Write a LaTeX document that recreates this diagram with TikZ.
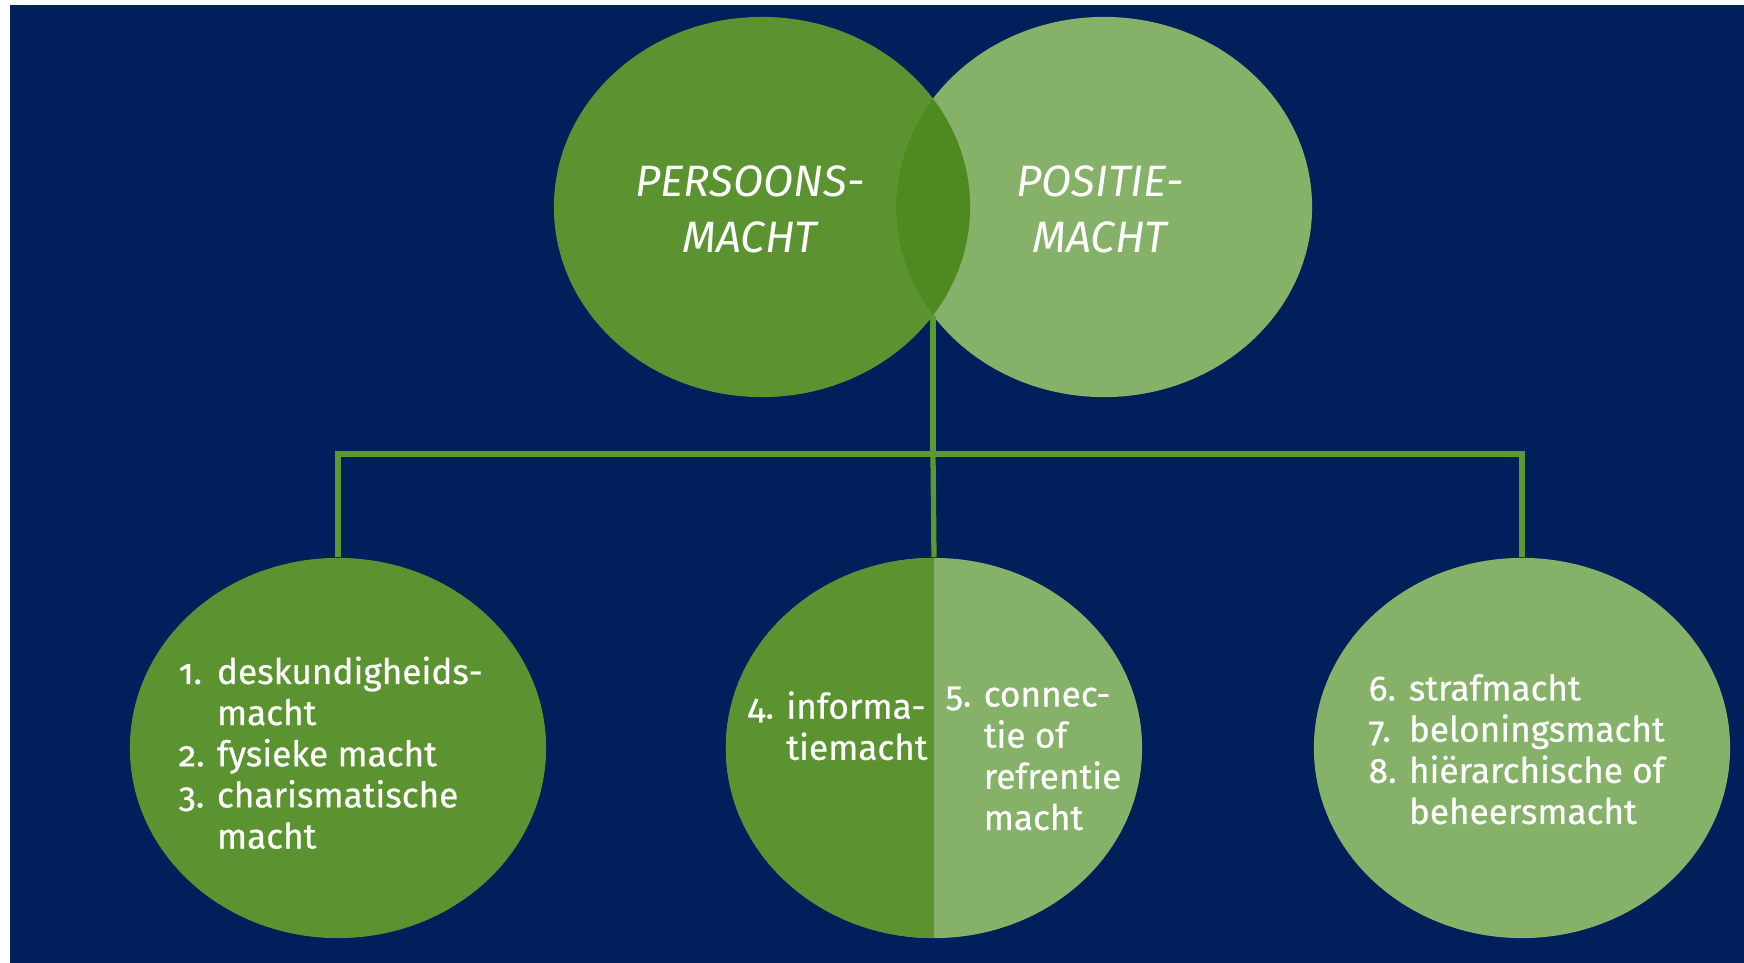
\documentclass[tikz,border=0pt]{standalone}
\usepackage{fontspec}
\setmainfont{Fira Sans}[Numbers=OldStyle]
\newfontfamily\itemfont{Fira Sans}[Numbers=OldStyle, FakeBold=0.6]
\usepackage{tikz}
\usetikzlibrary{shapes.geometric, positioning}
\definecolor{navy}{HTML}{001F5B}
\definecolor{dkgreen}{HTML}{5A9330}
\definecolor{ltgreen}{HTML}{86B169}
\definecolor{mixgreen}{HTML}{4D8B21}
\definecolor{linegreen}{HTML}{5A9A2E}
\tikzset{
  blob/.style={ellipse, minimum width=4.16cm, minimum height=3.8cm, inner sep=0pt},
  head/.style={text=white, align=center, font=\itshape\fontsize{12.5}{16}\selectfont},
  item/.style={text=white, anchor=west, inner sep=0pt, font=\itemfont\fontsize{10}{11.7}\selectfont},
  link/.style={draw=linegreen, line width=1.5pt}
}
\newcommand{\lst}[1]{\begin{tabular}{@{}l@{ }l@{}}#1\end{tabular}}

\begin{document}
\begin{tikzpicture}[x=0.01cm, y=-0.01cm]
\useasboundingbox (0,0) rectangle (1744,963);
\fill[navy] (10,5) rectangle (1744,963);

\node[blob, fill=dkgreen] (persoon) at (762,207) {};
\node[blob, fill=ltgreen] (positie) at (1104,207) {};
\begin{scope}
  \clip (762,207) ellipse [x radius=2.08cm, y radius=1.9cm];
  \fill[mixgreen] (1104,207) ellipse [x radius=2.08cm, y radius=1.9cm];
\end{scope}
\node[head] (lblpersoon) at (750,209) {PERSOONS-\\MACHT};
\node[head] (lblpositie) at (1100,209) {POSITIE-\\MACHT};

\node[blob, fill=dkgreen] (links) at (338,748) {};
\node[blob, fill=ltgreen, path picture={\fill[dkgreen] (path picture bounding box.north west) rectangle (path picture bounding box.south);}] (midden) at (934,748) {};
\node[blob, fill=ltgreen] (rechts) at (1522,748) {};

\coordinate (join) at (933,316);
\coordinate (hub) at (933,454);
\draw[link] (join) -- (hub);
\draw[link] (links.north) |- (hub) -| (rechts.north);
\draw[link] (hub) -- (midden.north);

\node[item] (items1) at (178,758) {\lst{1. & deskundigheids-\\ & macht\\ 2. & fysieke macht\\ 3. & charismatische\\ & macht}};
\node[item] (items4) at (747,731) {\lst{4. & informa-\\ & tiemacht}};
\node[item] (items5) at (945,760) {\lst{5. & connec-\\ & tie of\\ & refrentie\\ & macht}};
\node[item] (items6) at (1368,754) {\lst{6. & strafmacht\\ 7. & beloningsmacht\\ 8. & hiërarchische of\\ & beheersmacht}};
\end{tikzpicture}
\end{document}
